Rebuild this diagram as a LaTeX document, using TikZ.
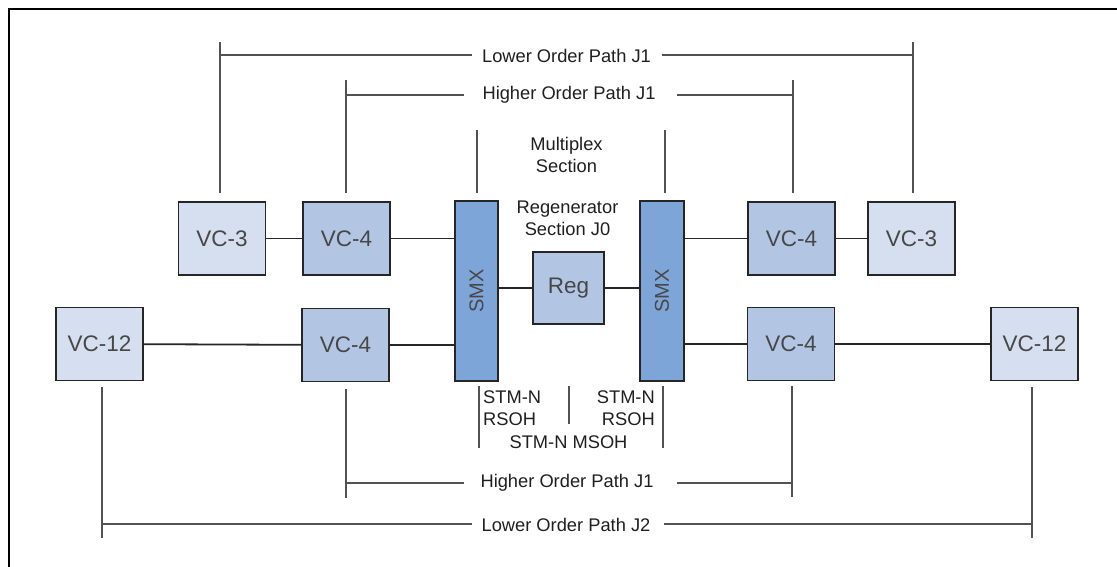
\documentclass[tikz,border=0pt]{standalone}
\usepackage{fontspec}
\setmainfont{Liberation Sans}
\usetikzlibrary{calc}
\definecolor{boxlight}{HTML}{D6DFEF}
\definecolor{boxmid}{HTML}{B2C6E4}
\definecolor{boxdark}{HTML}{7EA5D8}
\begin{document}
\begin{tikzpicture}[x=1pt,y=-1pt,
 box/.style={draw=black!85,line width=1.8pt,minimum width=87pt,minimum height=73pt,inner sep=0pt,font=\fontsize{22.5}{26}\selectfont,text=black!72},
 lt/.style={box,fill=boxlight},
 md/.style={box,fill=boxmid},
 smx/.style={box,fill=boxdark,minimum width=43pt,minimum height=180pt,font=\fontsize{20}{22}\selectfont},
 link/.style={line width=1.8pt,black!85},
 bracket/.style={line width=1.2pt,black!68},
 lbl/.style={font=\fontsize{18.3}{22.5}\selectfont,text=black!88,inner sep=0pt}]
\useasboundingbox (0,0) rectangle (1117,567);
\draw[line width=2.5pt] (9,567) -- (9,9) -- (1117,9);

% boxes
\node[lt] (vc3l) at (222,238.5) {VC-3};
\node[md] (vc4ul) at (346.5,238.5) {VC-4};
\node[smx] (smxl) at (476.5,291) {\rotatebox{90}{SMX}};
\node[md,minimum width=71pt,minimum height=72pt] (reg) at (568.5,288) {Reg};
\node[smx,minimum width=44pt] (smxr) at (662,291) {\rotatebox{90}{SMX}};
\node[md] (vc4ur) at (791.5,238.5) {VC-4};
\node[lt] (vc3r) at (911.5,238.5) {VC-3};
\node[lt] (vc12l) at (99.5,344) {VC-12};
\node[md] (vc4ll) at (345.5,345) {VC-4};
\node[md] (vc4lr) at (791,344) {VC-4};
\node[lt] (vc12r) at (1034.5,344) {VC-12};

% links
\draw[link] (vc3l) -- (vc4ul);
\draw[link] (vc4ul.east) -- (vc4ul.east -| smxl.west);
\draw[link] (smxl.east |- reg) -- (reg);
\draw[link] (reg) -- (smxr.west |- reg);
\draw[link] (smxr.east |- vc4ur) -- (vc4ur);
\draw[link] (vc4ur) -- (vc3r);
\draw[link] (vc12l) -- (vc4ll);
\draw[link] (vc4ll.east) -- (vc4ll.east -| smxl.west);
\draw[link] (smxr.east |- vc4lr) -- (vc4lr);
\draw[link] (vc4lr) -- (vc12r);

% labels
\node[lbl] (lo1) at (566.5,56) {Lower Order Path J1};
\node[lbl] (ho1) at (569,95) {Higher Order Path J1};
\node[lbl,align=center] (ms) at (566.5,155) {Multiplex\\Section};
\node[lbl,align=center] (rs) at (567.5,218.5) {Regenerator\\Section J0};
\node[lbl,align=left,anchor=west,font=\fontsize{18.3}{22}\selectfont] (stml) at (483,408.5) {STM-N\\RSOH};
\node[lbl,align=right,anchor=east,font=\fontsize{18.3}{22}\selectfont] (stmr) at (655,408.5) {STM-N\\RSOH};
\node[lbl] (msoh) at (568.5,442) {STM-N MSOH};
\node[lbl] (ho2) at (567,482.5) {Higher Order Path J1};
\node[lbl] (lo2) at (566,525) {Lower Order Path J2};

% free ends of the bracket lines
\coordinate (a1) at (220,193);  \coordinate (a2) at (220,42);
\coordinate (b1) at (913,193);  \coordinate (b2) at (913,42);
\coordinate (c1) at (346,193);  \coordinate (c2) at (346,80);
\coordinate (d1) at (793,193);  \coordinate (d2) at (793,80);
\coordinate (e1) at (477,193);  \coordinate (e2) at (477,130);
\coordinate (f1) at (665,193);  \coordinate (f2) at (665,130);
\coordinate (g1) at (479,386);  \coordinate (g2) at (479,448);
\coordinate (h1) at (569,386);  \coordinate (h2) at (569,424);
\coordinate (i1) at (663,386);  \coordinate (i2) at (663,448);
\coordinate (j1) at (346,389);  \coordinate (j2) at (346,498);
\coordinate (k1) at (792,386);  \coordinate (k2) at (792,497);
\coordinate (l1) at (102,387);  \coordinate (l2) at (102,538);
\coordinate (m1) at (1032,387); \coordinate (m2) at (1032,538);

% upper lower-order path
\draw[bracket] (a1) -- (a2);
\draw[bracket] (a1 |- 0,55) -- (472,55);
\draw[bracket] (662,55) -- (b1 |- 0,55);
\draw[bracket] (b1) -- (b2);
% upper higher-order path
\draw[bracket] (c1) -- (c2);
\draw[bracket] (c1 |- 0,95) -- (464,95);
\draw[bracket] (677,95) -- (d1 |- 0,95);
\draw[bracket] (d1) -- (d2);
% multiplex section
\draw[bracket] (e1) -- (e2);
\draw[bracket] (f1) -- (f2);
% STM-N
\draw[bracket] (g1) -- (g2);
\draw[bracket] (h1) -- (h2);
\draw[bracket] (i1) -- (i2);
% lower higher-order path
\draw[bracket] (j1) -- (j2);
\draw[bracket] (j1 |- 0,483) -- (464,483);
\draw[bracket] (677,483) -- (k1 |- 0,483);
\draw[bracket] (k1) -- (k2);
% lower lower-order path
\draw[bracket] (l1) -- (l2);
\draw[bracket] (l1 |- 0,524) -- (472,524);
\draw[bracket] (664,524) -- (m1 |- 0,524);
\draw[bracket] (m1) -- (m2);
\end{tikzpicture}
\end{document}
